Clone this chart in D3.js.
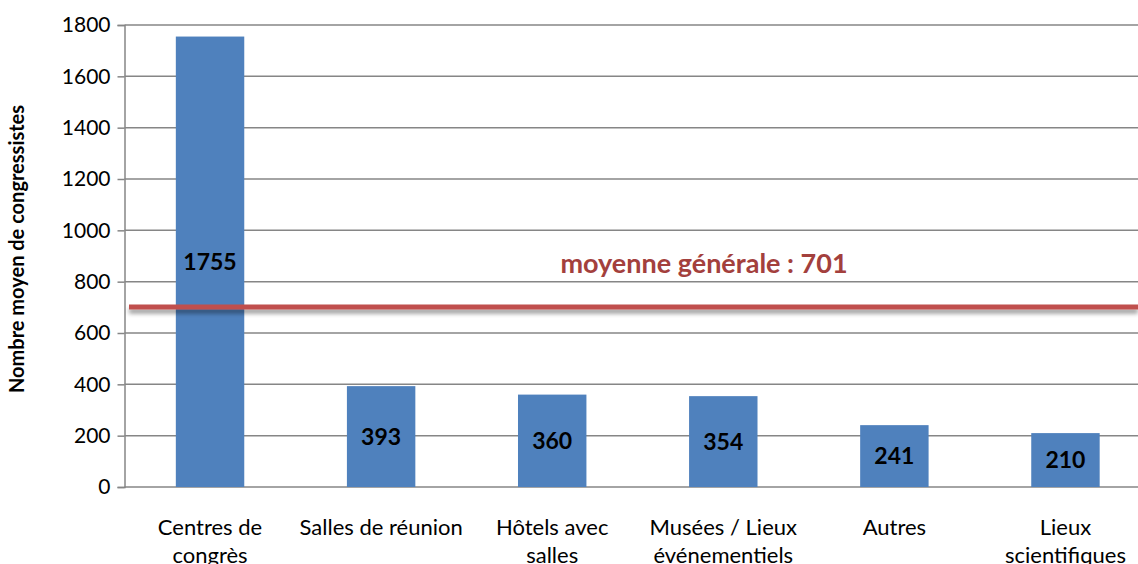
<!DOCTYPE html>
<html>
<head>
<meta charset="utf-8">
<script src="https://cdn.jsdelivr.net/npm/d3@7/dist/d3.min.js"></script>
<style>
  body { margin: 0; background: #fff; }
  svg { display: block; font-family: Lato, "Open Sans", sans-serif; }
</style>
</head>
<body>
<svg id="chart" width="1138" height="564"></svg>
<script>
// Data
const categories = [
  ['Centres de', 'congrès'],
  ['Salles de réunion'],
  ['Hôtels avec', 'salles'],
  ['Musées / Lieux', 'événementiels'],
  ['Autres'],
  ['Lieux', 'scientifiques'],
];
const values = [1755, 393, 360, 354, 241, 210];
const yTicks = [0, 200, 400, 600, 800, 1000, 1200, 1400, 1600, 1800];
const average = 701;
const averageLabel = 'moyenne générale : ' + average;

const svg = d3.select('#chart');
const W = 1138, H = 564;
const margin = { top: 25, right: -13, bottom: 77, left: 124.5 };

const x = d3.scaleBand()
  .domain(d3.range(values.length))
  .range([margin.left, W - margin.right])
  .paddingInner(0.6)
  .paddingOuter(0.3);

const y = d3.scaleLinear()
  .domain([0, 1800])
  .range([H - margin.bottom, margin.top]);

// Shadow for the average line (user space, the line has no height)
const defs = svg.append('defs');
const shadow = defs.append('filter').attr('id', 'shadow')
  .attr('filterUnits', 'userSpaceOnUse')
  .attr('x', 0).attr('y', y(average) - 20).attr('width', W).attr('height', 40);
shadow.append('feGaussianBlur').attr('in', 'SourceAlpha').attr('stdDeviation', 2.2);
shadow.append('feOffset').attr('dx', 0).attr('dy', 4).attr('result', 'off');
shadow.append('feComponentTransfer').attr('result', 'shade')
  .append('feFuncA').attr('type', 'linear').attr('slope', 0.4);
const merge = shadow.append('feMerge');
merge.append('feMergeNode').attr('in', 'shade');
merge.append('feMergeNode').attr('in', 'SourceGraphic');

// Gridlines + y axis
const yAxis = d3.axisLeft(y).tickValues(yTicks).tickFormat(d3.format('d'))
  .tickSize(7).tickPadding(7);
const gy = svg.append('g')
  .attr('transform', `translate(${margin.left},0)`)
  .call(yAxis);
gy.select('.domain').attr('stroke', '#868686').attr('stroke-width', 1.5);
gy.selectAll('.tick line').attr('stroke', '#868686').attr('stroke-width', 1.5);
gy.selectAll('.tick text')
  .attr('font-size', 21).attr('fill', '#000')
  .attr('font-family', 'Lato, "Open Sans", sans-serif');

svg.append('g').selectAll('line')
  .data(yTicks)
  .join('line')
  .attr('x1', margin.left).attr('x2', W)
  .attr('y1', d => y(d)).attr('y2', d => y(d))
  .attr('stroke', '#868686').attr('stroke-width', 1.5);

// Bars
svg.append('g').selectAll('rect')
  .data(values)
  .join('rect')
  .attr('x', (d, i) => x(i))
  .attr('y', d => y(d))
  .attr('width', x.bandwidth())
  .attr('height', d => y(0) - y(d))
  .attr('fill', '#4F81BD');

// Value labels centred in bars
svg.append('g').selectAll('text')
  .data(values)
  .join('text')
  .attr('x', (d, i) => x(i) + x.bandwidth() / 2)
  .attr('y', d => (y(d) + y(0)) / 2)
  .attr('dy', '0.36em')
  .attr('text-anchor', 'middle')
  .attr('font-size', 23)
  .attr('font-weight', 'bold')
  .attr('fill', '#000')
  .text(d => d);

// Average line
svg.append('line')
  .attr('x1', 129).attr('x2', W)
  .attr('y1', y(average)).attr('y2', y(average))
  .attr('stroke', '#C0504D')
  .attr('stroke-width', 5)
  .attr('filter', 'url(#shadow)');

svg.append('text')
  .attr('x', 704)
  .attr('y', 273)
  .attr('text-anchor', 'middle')
  .attr('font-size', 27)
  .attr('font-weight', 'bold')
  .attr('fill', '#A3403D')
  .text(averageLabel);

// x category labels
const xl = svg.append('g').selectAll('text')
  .data(categories)
  .join('text')
  .attr('x', (d, i) => x(i) + x.bandwidth() / 2)
  .attr('y', 535)
  .attr('text-anchor', 'middle')
  .attr('font-size', 22)
  .attr('fill', '#000');
xl.selectAll('tspan')
  .data(d => d)
  .join('tspan')
  .attr('x', function() { return d3.select(this.parentNode).attr('x'); })
  .attr('dy', (d, i) => i === 0 ? 0 : 28)
  .text(d => d);

// y axis title
svg.append('text')
  .attr('transform', `translate(24,249) rotate(-90)`)
  .attr('text-anchor', 'middle')
  .attr('font-size', 20)
  .attr('font-weight', 'bold')
  .attr('fill', '#000')
  .text('Nombre moyen de congressistes');
</script>
</body>
</html>
